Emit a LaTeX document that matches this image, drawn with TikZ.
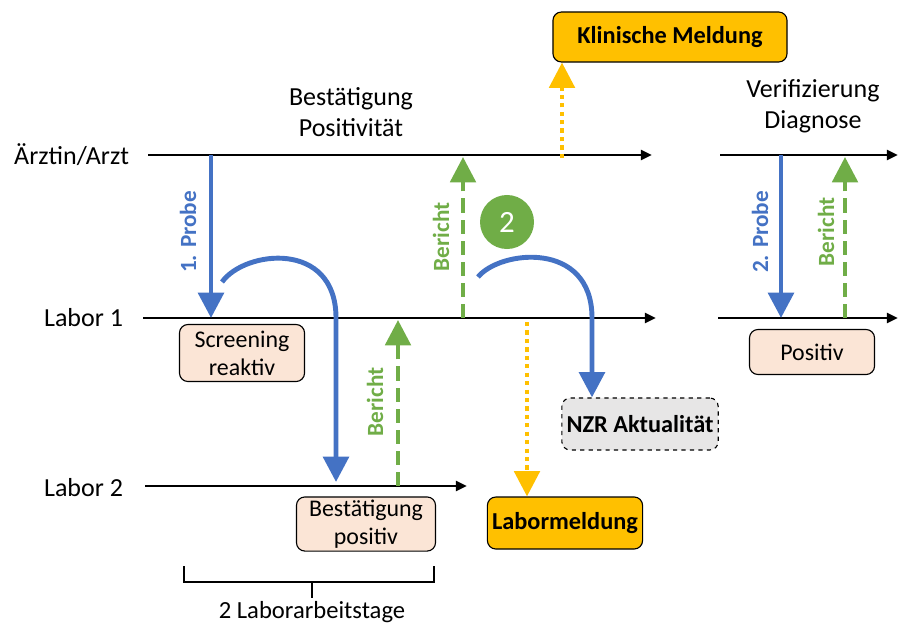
\documentclass[tikz,border=0pt]{standalone}
\usepackage{fontspec}
\setmainfont{Carlito}
\usetikzlibrary{arrows.meta,positioning}
\definecolor{mblue}{HTML}{4472C4}
\definecolor{mgreen}{HTML}{70AD47}
\definecolor{myellow}{HTML}{FFC000}
\definecolor{mpeach}{HTML}{FBE5D6}
\definecolor{mgray}{HTML}{E7E6E6}
\begin{document}
\begin{tikzpicture}
        [x=0.025cm,y=-0.025cm,
         every node/.style={font=\fontsize{18.5}{22}\selectfont},
         timeline/.style={draw=black,line width=2pt,-{Triangle[width=7pt,length=8pt]}},
         probe/.style={draw=mblue,line width=3.5pt,-{Triangle[width=18pt,length=18pt]}},
         bericht/.style={draw=mgreen,line width=3pt,dash pattern=on 10pt off 5pt,-{Triangle[width=18pt,length=18pt]}},
         meldung/.style={draw=myellow,line width=3pt,dash pattern=on 3pt off 3pt,-{Triangle[width=18pt,length=18pt]}},
         result/.style={draw, rounded corners=6pt, fill=mpeach, line width=0.8pt, align=center, inner sep=2pt,
                        font=\fontsize{17}{20}\selectfont},
         report/.style={draw, rounded corners=6pt, fill=myellow, line width=0.8pt, font=\fontsize{17.3}{20}\selectfont\bfseries},
         lbl/.style={rotate=90, font=\fontsize{16.5}{19}\selectfont\bfseries}]
        \useasboundingbox (0,0) rectangle (898,624);
        %\draw[help lines] (0,0) grid (898,624);
        % actors
        \node[anchor=east] (arzt) at (134,155) {Ärztin/Arzt};
        \node[anchor=east] (lab1) at (128,318) {Labor 1};
        \node[anchor=east] (lab2) at (128,488) {Labor 2};
        \node[align=center] (best) at (351,112) {Bestätigung\\Positivität};
        \node[align=center] (veri) at (813,106) {Verifizierung\\Diagnose};
        % timelines
        \coordinate (a0) at (148,155); \coordinate (a1) at (652,155);
        \coordinate (a2) at (720,155); \coordinate (a3) at (898,155);
        \coordinate (l0) at (143,318); \coordinate (l1) at (656,318);
        \coordinate (l2) at (718,318); \coordinate (l3) at (898,318);
        \coordinate (m0) at (145,486); \coordinate (m1) at (467,486);
        \draw[timeline] (a0) -- (a1);
        \draw[timeline] (a2) -- (a3);
        \draw[timeline] (l0) -- (l1);
        \draw[timeline] (l2) -- (l3);
        \draw[timeline] (m0) -- (m1);
        % boxes
        \node[result, minimum width=3.125cm, minimum height=1.425cm] (scr) at (242,353) {Screening\\reaktiv};
        \node[result, minimum width=3.475cm, minimum height=1.325cm] (bpos) at (366,524) {Bestätigung\\positiv};
        \node[result, minimum width=3.125cm, minimum height=1.125cm] (pos) at (812,352) {Positiv};
        \node[draw, dashed, rounded corners=6pt, fill=mgray, line width=0.8pt, font=\fontsize{17.3}{20}\selectfont\bfseries,
              minimum width=3.875cm, minimum height=1.3cm] (nzr) at (640,424) {NZR Aktualität};
        \node[report, minimum width=3.875cm, minimum height=1.3cm] (labm) at (565,523) {Labormeldung};
        \node[report, minimum width=5.85cm, minimum height=1.25cm] (klin) at (670,37) {Klinische Meldung};
        \node[circle, fill=mgreen, text=white, minimum size=1.35cm, font=\fontsize{22}{26}\selectfont] (two) at (507,222) {2};
        % messages
        \coordinate (p1s) at (211,155); \coordinate (p1e) at (211,318);
        \draw[probe] (p1s) -- (p1e);
        \node[lbl, text=mblue] (p1l) at (188,232) {1. Probe};
        \coordinate (c1s) at (222,282); \coordinate (c1e) at (336,482);
        \draw[probe] (c1s) .. controls (245,250) and (336,240) .. (336,318) -- (c1e);
        \coordinate (b1s) at (398,486); \coordinate (b1e) at (398,320);
        \draw[bericht] (b1s) -- (b1e);
        \node[lbl, text=mgreen] (b1l) at (375,402) {Bericht};
        \coordinate (b2s) at (463,318); \coordinate (b2e) at (463,157);
        \draw[bericht] (b2s) -- (b2e);
        \node[lbl, text=mgreen] (b2l) at (441,237) {Bericht};
        \coordinate (c2s) at (478,277);
        \draw[probe] (c2s) .. controls (500,250) and (592,240) .. (592,318) -- (nzr.north -| 592,0);
        \coordinate (y1s) at (562,158);
        \draw[meldung] (y1s) -- (klin.south west -| y1s);
        \coordinate (y2s) at (527,322);
        \draw[meldung] (y2s) -- (labm.north -| y2s);
        \coordinate (p2s) at (781,155); \coordinate (p2e) at (781,318);
        \draw[probe] (p2s) -- (p2e);
        \node[lbl, text=mblue] (p2l) at (760,232) {2. Probe};
        \coordinate (b3s) at (845,318); \coordinate (b3e) at (845,157);
        \draw[bericht] (b3s) -- (b3e);
        \node[lbl, text=mgreen] (b3l) at (826,232) {Bericht};
        % duration
        \draw[line width=0.8pt] (184,566) -- (184,582) -- (434,582) -- (434,566);
        \draw[line width=0.8pt] (312,582) -- (312,598);
        \node[font=\fontsize{17.5}{20}\selectfont] (dur) at (312,612) {2 Laborarbeitstage};
\end{tikzpicture}
\end{document}
